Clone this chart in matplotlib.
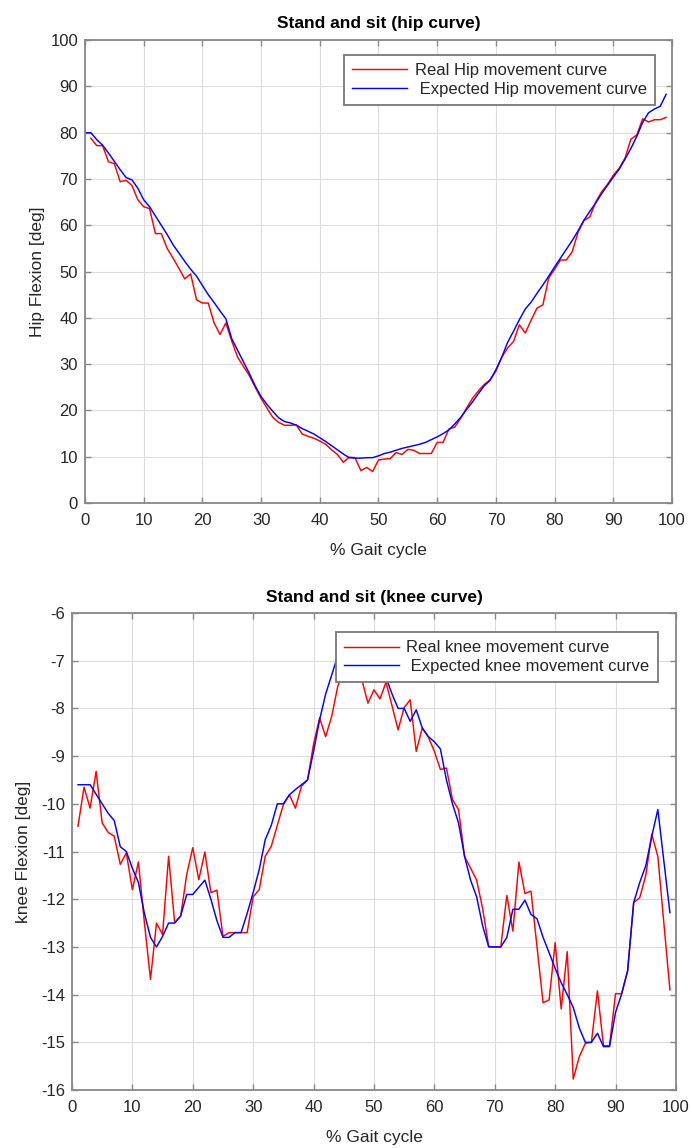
import numpy as np
import matplotlib
matplotlib.use("Agg")
import matplotlib.pyplot as plt

plt.rcParams['font.family'] = ['Liberation Sans', 'DejaVu Sans']
plt.rcParams['axes.unicode_minus'] = False

# -----------------------------
# Data
# -----------------------------
hip_x_expected = np.arange(0, 100)
hip_expected = [80, 80, 78.5, 77.3, 75.6, 73.8, 72, 70.3, 69.8, 68,
                65.5, 64, 62, 60, 58, 55.8, 54, 52.2, 50.5, 49,
                47, 45, 43.3, 41.5, 39.8, 35.5, 33, 30.5, 28, 25.3,
                23, 21.3, 19.8, 18.4, 17.6, 17.3, 16.8, 16.1, 15.5, 14.9,
                14.1, 13.3, 12.4, 11.5, 10.6, 9.8, 9.7, 9.7, 9.8, 9.8,
                10.2, 10.7, 11.0, 11.4, 11.8, 12.1, 12.4, 12.7, 13.1, 13.7,
                14.3, 15.0, 15.8, 17.1, 18.5, 20.2, 21.8, 23.6, 25.3, 26.5,
                28.8, 31.5, 34.7, 37.1, 39.6, 41.9, 43.4, 45.3, 47.1, 49,
                51, 52.9, 54.8, 56.7, 58.8, 61.1, 63, 64.8, 66.8, 68.6,
                70.4, 72.1, 74.3, 76.6, 79.2, 82.2, 84.3, 85.1, 85.7, 88.3]

hip_x_real = np.arange(1, 100)
hip_real = [78.8, 77.2, 77.2, 73.7, 73.3, 69.4, 69.7, 68.6, 65.5,
            64, 63.6, 58.2, 58.2, 55, 52.9, 50.7, 48.4, 49.5, 43.9,
            43.2, 43.2, 38.9, 36.4, 38.9, 35, 31.5, 29.5, 27.5, 25,
            22.6, 20.5, 18.5, 17.4, 16.8, 16.8, 16.9, 14.9, 14.4, 14,
            13.4, 12.7, 11.5, 10.5, 8.8, 9.9, 9.8, 7, 7.7, 6.8,
            9.3, 9.5, 9.6, 10.9, 10.5, 11.6, 11.4, 10.7, 10.7, 10.7,
            13.1, 13.1, 16, 16.4, 18.3, 20.5, 22.6, 24.2, 25.6, 26.6,
            28.5, 31.5, 33.5, 34.9, 38.5, 36.7, 39.5, 42.1, 42.8, 48.6,
            50.5, 52.5, 52.5, 54.3, 58.5, 61, 61.8, 65, 67.2, 68.8,
            70.8, 72.3, 74.5, 78.6, 79.5, 83, 82.3, 82.8, 82.8, 83.3]

knee_x = np.arange(1, 100)
knee_real = [-10.47, -9.65, -10.09, -9.32, -10.4, -10.6, -10.68, -11.27, -11.03,
             -11.8, -11.22, -12.5, -13.68, -12.5, -12.74, -11.1, -12.49, -12.35, -11.48,
             -10.92, -11.59, -11.01, -11.86, -11.81, -12.78, -12.7, -12.7, -12.7, -12.7,
             -11.95, -11.8, -11.1, -10.89, -10.45, -10.02, -9.81, -10.09, -9.63, -9.5,
             -8.75, -8.2, -8.59, -8.17, -7.54, -7.2, -7.0, -7.3, -7.4, -7.89,
             -7.61, -7.8, -7.45, -7.95, -8.45, -7.98, -7.82, -8.9, -8.41, -8.6,
             -8.9, -9.28, -9.25, -9.91, -10.12, -11.1, -11.35, -11.6, -12.2, -12.99,
             -13.0, -13.0, -11.92, -12.67, -11.22, -11.88, -11.83, -13.0, -14.17, -14.11,
             -12.91, -14.3, -13.1, -15.77, -15.3, -15.02, -15.0, -13.92, -15.07, -15.07,
             -13.98, -13.98, -13.5, -12.07, -11.97, -11.5, -10.64, -11.1, -12.5, -13.9]

knee_expected = [-9.6, -9.6, -9.6, -9.8, -10.0, -10.2, -10.35, -10.9, -11.0,
                 -11.35, -11.65, -12.3, -12.8, -13.0, -12.78, -12.5, -12.5, -12.35, -11.9,
                 -11.9, -11.75, -11.6, -12.0, -12.45, -12.8, -12.8, -12.7, -12.7, -12.3,
                 -11.86, -11.38, -10.75, -10.45, -10.0, -10.0, -9.81, -9.7, -9.6, -9.5,
                 -8.9, -8.24, -7.7, -7.3, -6.9, -6.65, -6.6, -6.7, -6.8, -7.0,
                 -7.1, -7.2, -7.35, -7.7, -8.0, -8.0, -8.27, -8.03, -8.41, -8.59,
                 -8.7, -8.85, -9.5, -10.0, -10.4, -11.1, -11.6, -11.95, -12.56, -13.0,
                 -13.0, -13.0, -12.8, -12.21, -12.21, -12.02, -12.32, -12.41, -12.8, -13.12,
                 -13.45, -13.75, -14.0, -14.27, -14.7, -15.0, -15.0, -14.81, -15.09, -15.09,
                 -14.37, -13.99, -13.5, -12.07, -11.65, -11.3, -10.68, -10.12, -11.2, -12.28]

gait_ticks = np.arange(0, 101, 10)
hip_ticks = np.arange(0, 101, 10)
knee_ticks = np.arange(-16, -5, 1)

# -----------------------------
# Figure
# -----------------------------
fig = plt.figure(figsize=(6.92, 11.48), dpi=100)
ax1 = fig.add_axes([0.1228, 0.5618, 0.8483, 0.4033])
ax2 = fig.add_axes([0.1040, 0.0505, 0.8728, 0.4155])

spine_col = "#888888"
text_col = "#262626"


def style_axes(ax):
    ax.grid(True, color="#dcdcdc", linewidth=0.8)
    ax.set_axisbelow(True)
    for s in ax.spines.values():
        s.set_color(spine_col)
        s.set_linewidth(1.3)
    ax.tick_params(direction="in", length=4, width=1, color=spine_col,
                   top=True, right=True, labelsize=12, labelcolor=text_col)
    ax.tick_params(axis="x", pad=7)
    ax.tick_params(axis="y", pad=5)


def add_legend(ax, anchor):
    leg = ax.legend(loc="upper right", bbox_to_anchor=anchor, borderaxespad=0,
                    fontsize=12, fancybox=False, framealpha=1, edgecolor="#777777",
                    handlelength=3.3, handletextpad=0.45, borderpad=0.5,
                    labelspacing=0.22)
    leg.get_frame().set_linewidth(1.3)
    for t in leg.get_texts():
        t.set_color(text_col)
    return leg


# hip
ax1.plot(hip_x_real, hip_real, color="#ff0000", lw=1.05, label="Real Hip movement curve")
ax1.plot(hip_x_expected, hip_expected, color="#0000ff", lw=1.05, label=" Expected Hip movement curve")
ax1.set_xlim(0, 100)
ax1.set_ylim(0, 100)
ax1.set_xticks(gait_ticks)
ax1.set_yticks(hip_ticks)
style_axes(ax1)
ax1.set_title("Stand and sit (hip curve)", fontsize=12.5, fontweight="bold", pad=9, color="black")
ax1.set_xlabel("% Gait cycle", fontsize=12.5, color=text_col, labelpad=11)
ax1.set_ylabel("Hip Flexion [deg]", fontsize=12.5, color=text_col, labelpad=4)
add_legend(ax1, (0.971, 0.968))

# knee
ax2.plot(knee_x, knee_real, color="#ff0000", lw=1.05, label="Real knee movement curve")
ax2.plot(knee_x, knee_expected, color="#0000ff", lw=1.05, label=" Expected knee movement curve")
ax2.set_xlim(0, 100)
ax2.set_ylim(-16, -6)
ax2.set_xticks(gait_ticks)
ax2.set_yticks(knee_ticks)
style_axes(ax2)
ax2.set_title("Stand and sit (knee curve)", fontsize=12.5, fontweight="bold", pad=8, color="black")
ax2.set_xlabel("% Gait cycle", fontsize=12.5, color=text_col, labelpad=11)
ax2.set_ylabel("knee Flexion [deg]", fontsize=12.5, color=text_col, labelpad=7)
add_legend(ax2, (0.970, 0.960))

fig.savefig("out.png", dpi=100)
